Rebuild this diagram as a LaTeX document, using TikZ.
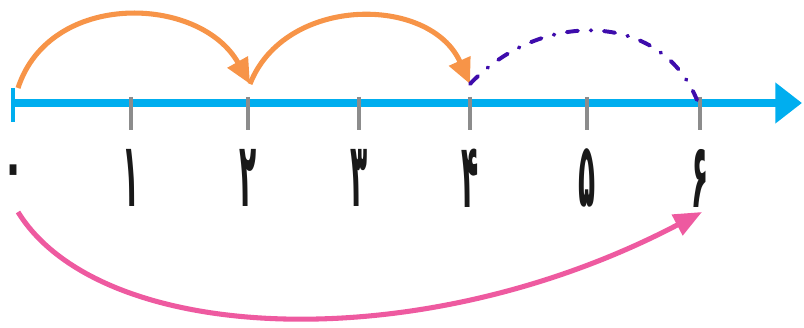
\documentclass[tikz,border=0pt]{standalone}
\usepackage{fontspec}
\newfontfamily\arabicfont[Script=Arabic]{DejaVu Sans}
\usetikzlibrary{arrows.meta}
\TeXXeTstate=1
\definecolor{axisblue}{RGB}{0,174,239}
\definecolor{jumporange}{RGB}{247,148,72}
\definecolor{jumppurple}{RGB}{62,12,172}
\definecolor{jumppink}{RGB}{238,90,160}

\begin{document}
\begin{tikzpicture}[x=0.025cm, y=-0.025cm,
        axis/.style={line width=5pt, draw=axisblue, -{Triangle[length=19pt,width=28pt]}},
        endtick/.style={line width=2.4pt, draw=axisblue},
        tick/.style={line width=2.4pt, draw=gray!90},
        digit/.style={font=\arabicfont\bfseries\fontsize{40}{40}\selectfont, text=black!90, inner sep=0pt},
        hop/.style={line width=3.6pt, draw=jumporange, -{Triangle[length=18pt,width=16pt]}},
        guess/.style={line width=2.8pt, draw=jumppurple, line cap=round, dash pattern=on 8pt off 9pt on 0.5pt off 9pt},
        leap/.style={line width=3.6pt, draw=jumppink, -{Triangle[length=20pt,width=16pt]}}
    ]
    \useasboundingbox (0,0) rectangle (804,328);
    % number line
    \coordinate (start) at (13,103);
    \coordinate (stop) at (802,103);
    \draw[axis] (start) -- (stop);
    \draw[endtick] (13,88) -- (13,122);
    \node[digit] (n0) at (14,176) {\scalebox{0.7}[1.1]{\beginR ۰\endR}};
    \foreach \i/\x/\d in {1/131/۱,2/248/۲,3/359/۳,4/470/۴,5/587/۵,6/700/۶} {
        \draw[tick] (\x,97) -- (\x,130);
        \node[digit] (n\i) at (\x,178) {\scalebox{0.5}[1.6]{\beginR\d\endR}};
    }
    % jumps above
    \coordinate (a0) at (18,88);
    \coordinate (a2) at (250,84);
    \coordinate (a4) at (470,84);
    \coordinate (a6) at (697,100);
    \draw[hop] (a0) .. controls (50,-10) and (200,-5) .. (a2);
    \draw[hop] (a2) .. controls (285,-5) and (430,-5) .. (a4);
    \draw[guess] (a4) .. controls (540,10) and (660,10) .. (a6);
    % jump below
    \coordinate (b0) at (18,212);
    \coordinate (b6) at (702,212);
    \draw[leap] (b0) .. controls (100,345) and (420,360) .. (b6);
\end{tikzpicture}
\end{document}
